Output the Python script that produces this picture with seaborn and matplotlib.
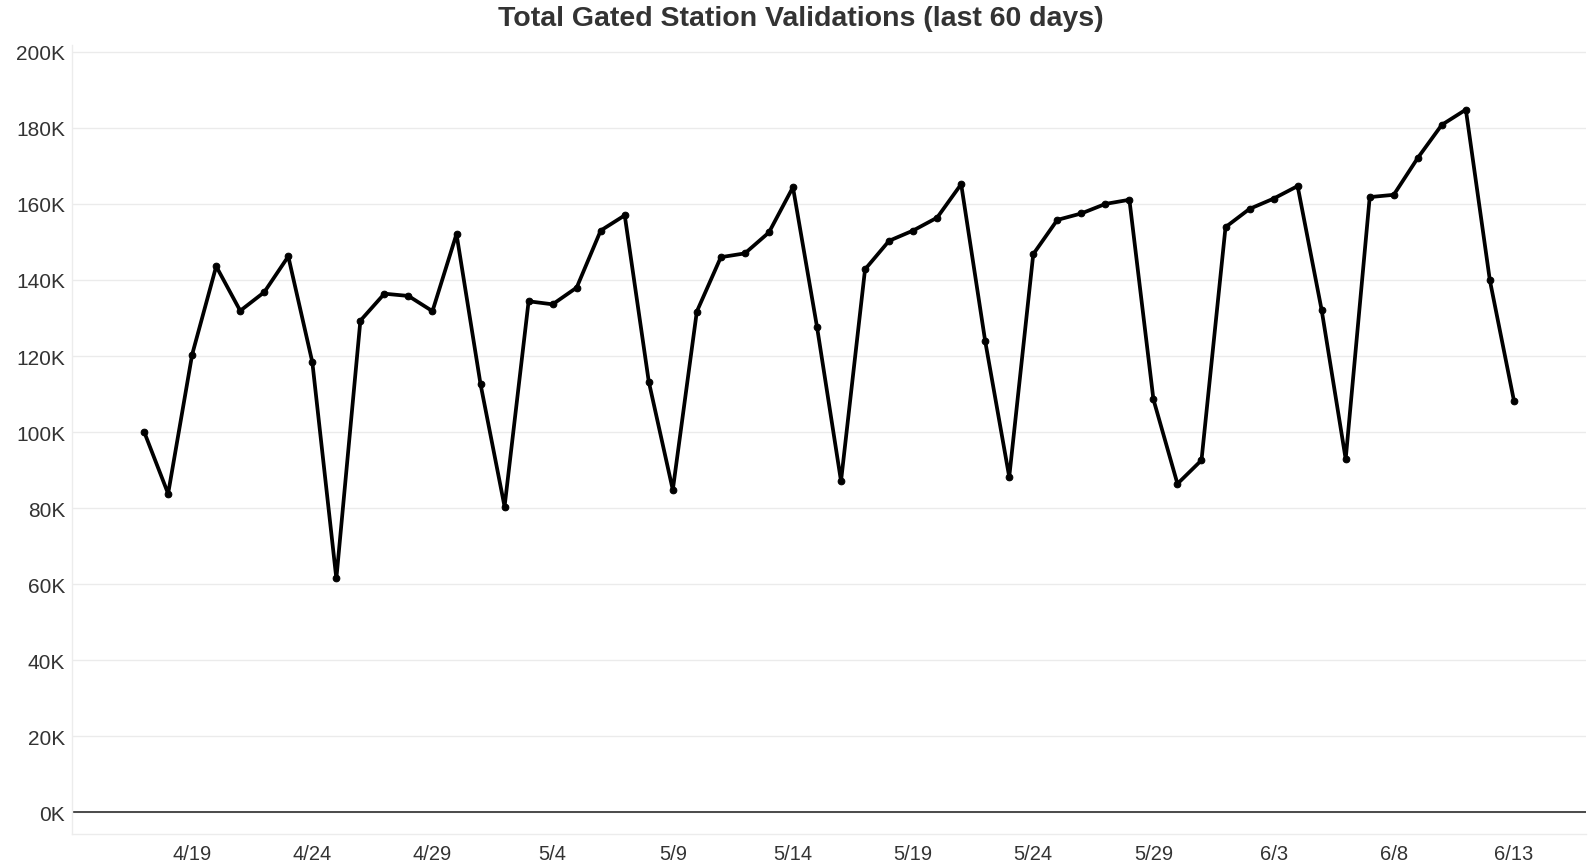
import matplotlib
matplotlib.use("Agg")
import matplotlib.dates as mdates
import matplotlib.pyplot as plt
import matplotlib.ticker as mticker
import numpy as np
import pandas as pd
import seaborn as sns

# daily validations, 4/17 .. 6/13 (thousands)
START_DATE = "2021-04-17"
validations_k = [
    100.1, 83.8, 120.4, 143.6, 131.9, 136.8, 146.2, 118.4, 61.5, 129.3,
    136.4, 135.8, 131.8, 152.1, 112.6, 80.4, 134.4, 133.6, 138.0, 153.0,
    157.0, 113.3, 84.8, 131.7, 146.0, 147.0, 152.5, 164.4, 127.7, 87.1,
    142.8, 150.3, 153.0, 156.4, 165.2, 123.9, 88.2, 146.8, 155.8, 157.5,
    160.0, 161.1, 108.6, 86.4, 92.6, 153.9, 158.7, 161.4, 164.7, 132.1,
    92.9, 161.8, 162.4, 172.1, 180.8, 184.8, 139.9, 108.3,
]
y_ticks_k = [0, 20, 40, 60, 80, 100, 120, 140, 160, 180, 200]
x_range = ("2021-04-14", "2021-06-16")
x_label_start, x_label_end = "2021-04-19", "2021-06-13"

title = "Total Gated Station Validations (last 60 days)"

sns.set_style("white")
plt.rcParams["font.family"] = ["Liberation Sans", "DejaVu Sans"]

dates = pd.date_range(START_DATE, periods=len(validations_k), freq="D")
df = pd.DataFrame({"date": dates, "value": np.array(validations_k) * 1000})

fig = plt.figure(figsize=(15.92, 8.62), dpi=100)
ax = fig.add_axes([72 / 1592, 27 / 862, 1514 / 1592, 789 / 862])

for t in y_ticks_k:
    ax.axhline(t * 1000, color="#ebebeb", linewidth=1, zorder=0)
ax.axhline(0, color="#4a4a4a", linewidth=1.4, zorder=1)

sns.lineplot(
    data=df, x="date", y="value", ax=ax,
    color="black", linewidth=2.7, marker="o", markersize=4.8,
    markeredgecolor="black", zorder=3,
)

ax.set_xlim(pd.Timestamp(x_range[0]), pd.Timestamp(x_range[1]))
ax.set_ylim(-5700, 201800)
ax.set_yticks([t * 1000 for t in y_ticks_k])
ax.yaxis.set_major_formatter(mticker.FuncFormatter(lambda v, _: f"{v / 1000:.0f}K"))

ax.xaxis.set_major_locator(mticker.FixedLocator(
    mdates.date2num(pd.date_range(x_label_start, x_label_end, freq="5D"))))
ax.xaxis.set_minor_locator(mdates.DayLocator())
ax.xaxis.set_major_formatter(mticker.FuncFormatter(
    lambda v, _: f"{mdates.num2date(v).month}/{mdates.num2date(v).day}"))

ax.set_xlabel("")
ax.set_ylabel("")
ax.tick_params(axis="y", length=0, pad=5, labelsize=15, labelcolor="#333333")
ax.tick_params(axis="x", which="major", length=4, color="#d9d9d9", pad=3,
               labelsize=14.5, labelcolor="#333333")
ax.tick_params(axis="x", which="minor", length=3, color="#e3e3e3")

for side in ("top", "right"):
    ax.spines[side].set_visible(False)
for side in ("left", "bottom"):
    ax.spines[side].set_color("#ececec")
    ax.spines[side].set_linewidth(1)

fig.text(0.503, 1 - 19 / 862, title, ha="center", va="center",
         fontsize=20.5, fontweight="bold", color="#333333")

fig.savefig("out.png", dpi=100)
